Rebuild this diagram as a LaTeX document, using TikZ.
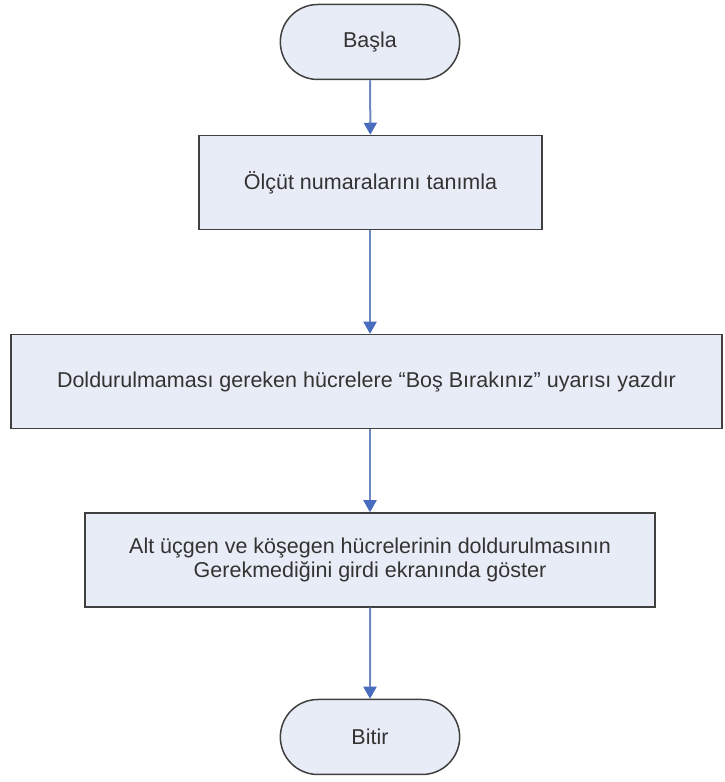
\documentclass[tikz,border=0pt]{standalone}
\usepackage{fontspec}
\setmainfont{Liberation Sans}
\usetikzlibrary{shapes.misc,arrows.meta}
\definecolor{boxfill}{RGB}{232,236,246}
\definecolor{boxline}{RGB}{64,64,64}
\definecolor{flowline}{RGB}{112,136,192}
\definecolor{flowhead}{RGB}{72,108,190}
\tikzset{
  x=1pt, y=1pt,
  terminal/.style={rounded rectangle, draw=boxline, fill=boxfill, line width=1.5pt,
    minimum width=186pt, minimum height=75pt, font=\fontsize{21.5}{26}\selectfont, text=black!80},
  process/.style={rectangle, draw=boxline, fill=boxfill, line width=1.5pt,
    minimum height=94pt, font=\fontsize{21.5}{24.5}\selectfont, text=black!80, align=center},
  flow/.style={draw=flowline, line width=2pt,
    -{Triangle[length=12pt,width=13pt,color=flowhead]}}
}
\begin{document}
\begin{tikzpicture}
  \useasboundingbox (0,0) rectangle (724,782);
  \node[terminal] (start) at (370,740) {Başla};
  \node[process, minimum width=343pt] (define) at (370.5,599.5) {Ölçüt numaralarını tanımla};
  \node[process, minimum width=711pt] (warn) at (366.5,400.5) {Doldurulmaması gereken hücrelere “Boş Bırakınız” uyarısı yazdır};
  \node[process, minimum width=570pt] (show) at (370,222) {Alt üçgen ve köşegen hücrelerinin doldurulmasının\\Gerekmediğini girdi ekranında göster};
  \node[terminal] (stop) at (370,45) {Bitir};
  \draw[flow] (start) -- (define);
  \draw[flow] (define.south -| start) -- (start |- warn.north);
  \draw[flow] (start |- warn.south) -- (start |- show.north);
  \draw[flow] (show.south -| start) -- (stop);
\end{tikzpicture}
\end{document}
